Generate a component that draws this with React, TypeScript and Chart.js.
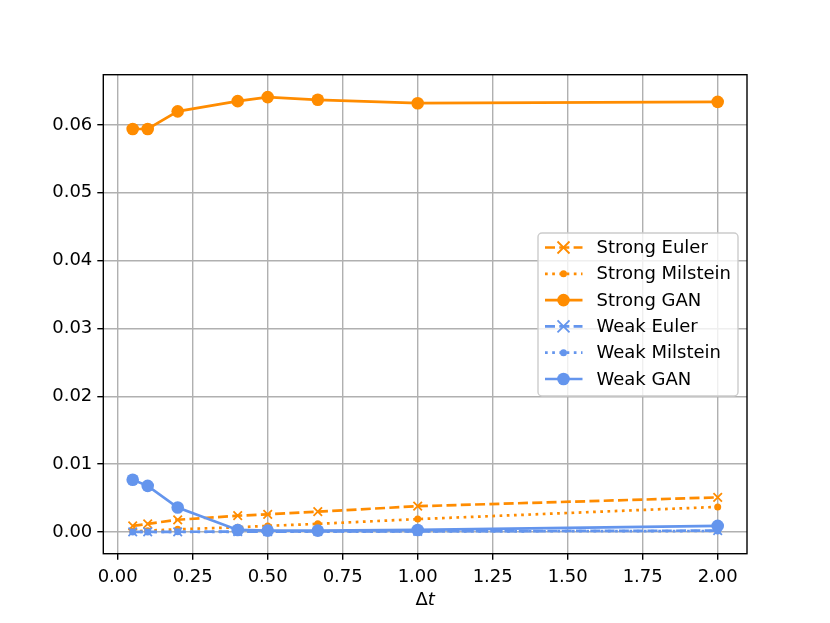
import { useEffect, useRef } from "react"
import { Chart, registerables } from "chart.js"

Chart.register(...registerables)

// time steps on the x axis
const dtValues = [0.05, 0.1, 0.2, 0.4, 0.5, 0.667, 1.0, 2.0]

// errors
const strongEuler = [0.0009, 0.0012, 0.0018, 0.0024, 0.0026, 0.003, 0.0038, 0.0051]
const strongMilstein = [0.0001, 0.0002, 0.0004, 0.0007, 0.0009, 0.0012, 0.0019, 0.0037]
const strongGan = [0.0594, 0.0594, 0.062, 0.0635, 0.0641, 0.0637, 0.0632, 0.0634]
const weakEuler = [0.00001, 0.00002, 0.00003, 0.00005, 0.00006, 0.00008, 0.0001, 0.0002]
const weakMilstein = [0.00001, 0.00001, 0.00002, 0.00003, 0.00004, 0.00005, 0.00008, 0.00015]
const weakGan = [0.0077, 0.0068, 0.0036, 0.0003, 0.0002, 0.0002, 0.0003, 0.0009]

const xTicks = [0, 0.25, 0.5, 0.75, 1.0, 1.25, 1.5, 1.75, 2.0]
const yTicks = [0, 0.01, 0.02, 0.03, 0.04, 0.05, 0.06]

const ORANGE = "#ff8c00"
const BLUE = "#6495ed"
const FONT = "DejaVu Sans"

const DASHED = [10, 4.3]
const DOTTED = [2.7, 4.5]

type Marker = "x" | "dot" | "o"

const series: { label: string; values: number[]; color: string; dash: number[]; marker: Marker }[] = [
  { label: "Strong Euler", values: strongEuler, color: ORANGE, dash: DASHED, marker: "x" },
  { label: "Strong Milstein", values: strongMilstein, color: ORANGE, dash: DOTTED, marker: "dot" },
  { label: "Strong GAN", values: strongGan, color: ORANGE, dash: [], marker: "o" },
  { label: "Weak Euler", values: weakEuler, color: BLUE, dash: DASHED, marker: "x" },
  { label: "Weak Milstein", values: weakMilstein, color: BLUE, dash: DOTTED, marker: "dot" },
  { label: "Weak GAN", values: weakGan, color: BLUE, dash: [], marker: "o" },
]

const markerRadius = (m: Marker) => (m === "x" ? 6 : m === "o" ? 6.3 : 3.5)

function drawMarker(ctx: CanvasRenderingContext2D, marker: Marker, color: string, x: number, y: number) {
  ctx.save()
  ctx.setLineDash([])
  ctx.fillStyle = color
  ctx.strokeStyle = color
  const r = markerRadius(marker)
  if (marker === "x") {
    ctx.lineWidth = 1.8
    ctx.beginPath()
    ctx.moveTo(x - r, y - r)
    ctx.lineTo(x + r, y + r)
    ctx.moveTo(x - r, y + r)
    ctx.lineTo(x + r, y - r)
    ctx.stroke()
  } else {
    ctx.beginPath()
    ctx.arc(x, y, r, 0, Math.PI * 2)
    ctx.fill()
  }
  ctx.restore()
}

const framePlugin = {
  id: "frameAndLegend",
  afterDraw(chart: Chart) {
    const ctx = chart.ctx
    const { left, right, top, bottom } = chart.chartArea

    // axes frame on all four sides
    ctx.save()
    ctx.strokeStyle = "#000"
    ctx.lineWidth = 1.4
    ctx.strokeRect(left, top, right - left, bottom - top)

    // x axis label: upright delta, italic t
    ctx.fillStyle = "#000"
    ctx.textBaseline = "middle"
    ctx.font = `18px "${FONT}"`
    const dW = ctx.measureText("Δ").width
    ctx.font = `italic 18px "${FONT}"`
    const tW = ctx.measureText("t").width
    const cx = (left + right) / 2
    const ly = 600
    ctx.font = `18px "${FONT}"`
    ctx.textAlign = "left"
    ctx.fillText("Δ", cx - (dW + tW) / 2, ly)
    ctx.font = `italic 18px "${FONT}"`
    ctx.fillText("t", cx - (dW + tW) / 2 + dW, ly)

    // legend box
    const bx = 538
    const by = 233
    const bw = 200
    const bh = 163
    ctx.beginPath()
    ctx.roundRect(bx, by, bw, bh, 4)
    ctx.fillStyle = "rgba(255,255,255,0.8)"
    ctx.fill()
    ctx.strokeStyle = "#cccccc"
    ctx.lineWidth = 1.4
    ctx.stroke()

    const rowStart = 247.5
    const rowStep = 26.3
    series.forEach((s, i) => {
      const y = rowStart + i * rowStep
      ctx.save()
      ctx.strokeStyle = s.color
      ctx.lineWidth = 2.7
      ctx.setLineDash(s.dash)
      ctx.beginPath()
      ctx.moveTo(545, y)
      ctx.lineTo(582.5, y)
      ctx.stroke()
      ctx.restore()
      drawMarker(ctx, s.marker, s.color, 563.5, y)
      ctx.fillStyle = "#000"
      ctx.font = `18px "${FONT}"`
      ctx.textAlign = "left"
      ctx.textBaseline = "middle"
      ctx.fillText(s.label, 596.5, y + 1)
    })
    ctx.restore()
  },
}

export default function App() {
  const chartRef = useRef<HTMLCanvasElement>(null)
  const chartInstance = useRef<Chart | null>(null)

  useEffect(() => {
    document.body.style.margin = "0"
    if (!chartRef.current) return

    if (chartInstance.current) {
      chartInstance.current.destroy()
    }

    const ctx = chartRef.current.getContext("2d")
    if (!ctx) return

    const n = series.length
    chartInstance.current = new Chart(ctx, {
      type: "line",
      data: {
        datasets: series.map((s, i) => ({
          label: s.label,
          data: dtValues.map((x, j) => ({ x, y: s.values[j] })),
          borderColor: s.color,
          backgroundColor: s.color,
          borderWidth: 2.7,
          borderDash: s.dash,
          pointStyle: s.marker === "x" ? "crossRot" : "circle",
          pointRadius: markerRadius(s.marker),
          pointBorderWidth: s.marker === "x" ? 1.8 : 0,
          pointBorderColor: s.color,
          pointBackgroundColor: s.color,
          tension: 0,
          fill: false,
          order: n - i,
        })),
      },
      options: {
        animation: false,
        responsive: true,
        maintainAspectRatio: false,
        layout: {
          padding: { top: 74.7, right: 83, left: 0, bottom: 0 },
        },
        plugins: {
          legend: { display: false },
          tooltip: { enabled: false },
        },
        scales: {
          x: {
            type: "linear",
            min: -0.048,
            max: 2.0977,
            afterBuildTicks: (scale: any) => {
              scale.ticks = xTicks.map((v) => ({ value: v }))
            },
            afterFit: (scale: any) => {
              scale.height = 69.3
            },
            ticks: {
              color: "#000",
              font: { family: FONT, size: 18 },
              padding: 7,
              maxRotation: 0,
              autoSkip: false,
              callback: (v: any) => Number(v).toFixed(2),
            },
            grid: {
              color: "#b0b0b0",
              lineWidth: 1.4,
              tickColor: "#000",
              tickLength: 6,
              tickWidth: 1.4,
            },
            border: { display: false },
          },
          y: {
            type: "linear",
            min: -0.0032,
            max: 0.0674,
            afterBuildTicks: (scale: any) => {
              scale.ticks = yTicks.map((v) => ({ value: v }))
            },
            afterFit: (scale: any) => {
              scale.width = 103.3
            },
            ticks: {
              color: "#000",
              font: { family: FONT, size: 18 },
              padding: 5,
              autoSkip: false,
              callback: (v: any) => Number(v).toFixed(2),
            },
            grid: {
              color: "#b0b0b0",
              lineWidth: 1.4,
              tickColor: "#000",
              tickLength: 6,
              tickWidth: 1.4,
            },
            border: { display: false },
          },
        },
      },
      plugins: [framePlugin],
    })

    return () => {
      if (chartInstance.current) {
        chartInstance.current.destroy()
        chartInstance.current = null
      }
    }
  }, [])

  return (
    <div style={{ width: 830, height: 623, background: "#fff" }}>
      <canvas ref={chartRef}></canvas>
    </div>
  )
}
